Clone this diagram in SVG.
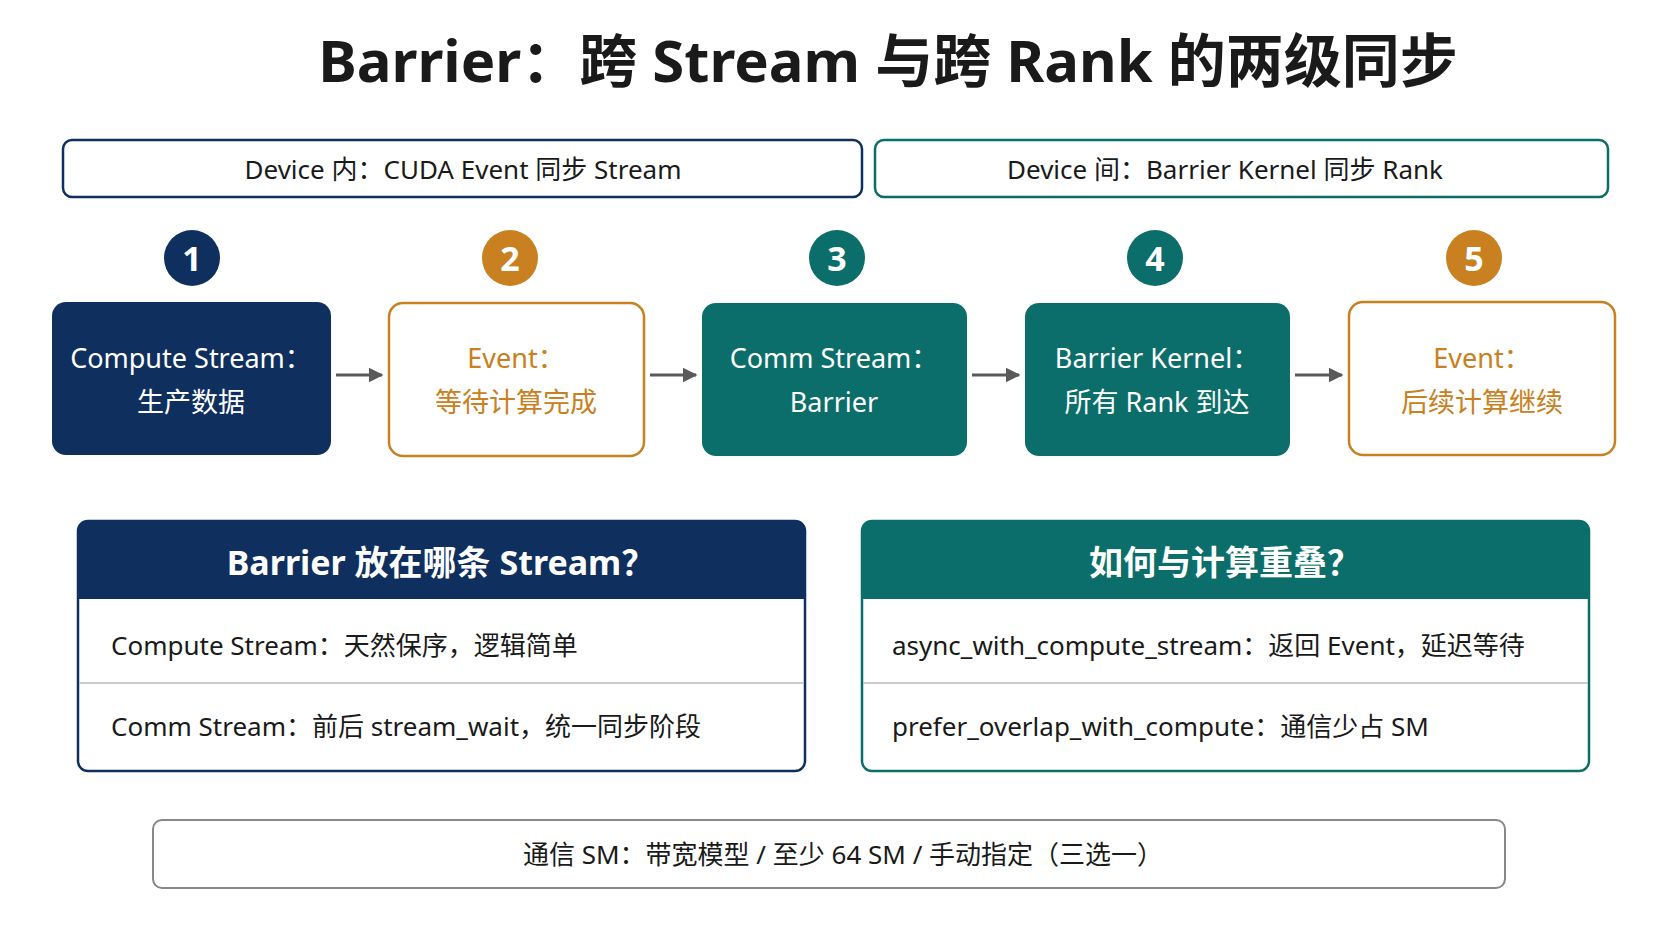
<svg xmlns="http://www.w3.org/2000/svg" width="1672" height="941" viewBox="0 0 1672 941">
<defs>
<style>
text{font-family:"Noto Sans","Noto Sans CJK SC",sans-serif;text-anchor:middle;dominant-baseline:central}
.t{font-size:58px;font-weight:700;fill:#1a1a1a}
.h{font-size:26px;fill:#1a1a1a}
.n{font-size:34px;font-weight:700;fill:#fff}
.w{font-size:27px;fill:#fff}
.o{font-size:27px;fill:#c98020}
.ph{font-size:34px;font-weight:700;fill:#fff}
.r{font-size:26px;fill:#1a1a1a;text-anchor:start}
.ln{stroke:#5a5a5a;stroke-width:3;fill:none}
</style>
<marker id="a" viewBox="0 0 10 10" refX="9" refY="5" markerWidth="5" markerHeight="5" orient="auto"><path d="M0,0L10,5L0,10z" fill="#5a5a5a"/></marker>
</defs>
<rect width="1672" height="941" fill="#fff"/>
<text class="t" x="888" y="59">Barrier：跨 Stream 与跨 Rank 的两级同步</text>
<g id="hdr1"><rect x="63" y="140" width="799" height="57" rx="9" fill="#fff" stroke="#0f2f5f" stroke-width="2.5"/><text class="h" x="463" y="169">Device 内：CUDA Event 同步 Stream</text></g>
<g id="hdr2"><rect x="875" y="140" width="733" height="57" rx="9" fill="#fff" stroke="#0b6e6a" stroke-width="2.5"/><text class="h" x="1225" y="169">Device 间：Barrier Kernel 同步 Rank</text></g>
<g id="c1"><circle cx="192" cy="258" r="28" fill="#0f2f5f"/><text class="n" x="192" y="258">1</text></g>
<g id="c2"><circle cx="510" cy="258" r="28" fill="#c98020"/><text class="n" x="510" y="258">2</text></g>
<g id="c3"><circle cx="837" cy="258" r="28" fill="#0b6e6a"/><text class="n" x="837" y="258">3</text></g>
<g id="c4"><circle cx="1155" cy="258" r="28" fill="#0b6e6a"/><text class="n" x="1155" y="258">4</text></g>
<g id="c5"><circle cx="1474" cy="258" r="28" fill="#c98020"/><text class="n" x="1474" y="258">5</text></g>
<g id="b1"><rect x="52" y="302" width="279" height="153" rx="14" fill="#0f2f5f"/><text class="w" x="191" y="357">Compute Stream：</text><text class="w" x="191" y="401">生产数据</text></g>
<g id="b2"><rect x="389" y="303" width="255" height="153" rx="14" fill="#fff" stroke="#c98020" stroke-width="2.5"/><text class="o" x="516" y="357">Event：</text><text class="o" x="516" y="401">等待计算完成</text></g>
<g id="b3"><rect x="702" y="303" width="265" height="153" rx="14" fill="#0b6e6a"/><text class="w" x="834" y="357">Comm Stream：</text><text class="w" x="834" y="401">Barrier</text></g>
<g id="b4"><rect x="1025" y="303" width="265" height="153" rx="14" fill="#0b6e6a"/><text class="w" x="1157" y="357">Barrier Kernel：</text><text class="w" x="1157" y="401">所有 Rank 到达</text></g>
<g id="b5"><rect x="1349" y="302" width="266" height="153" rx="14" fill="#fff" stroke="#c98020" stroke-width="2.5"/><text class="o" x="1482" y="357">Event：</text><text class="o" x="1482" y="401">后续计算继续</text></g>
<g id="connectors">
<line class="ln" x1="336" y1="375" x2="382" y2="375" marker-end="url(#a)"/>
<line class="ln" x1="650" y1="375" x2="696" y2="375" marker-end="url(#a)"/>
<line class="ln" x1="972" y1="375" x2="1019" y2="375" marker-end="url(#a)"/>
<line class="ln" x1="1295" y1="375" x2="1342" y2="375" marker-end="url(#a)"/>
</g>
<g id="p1"><rect x="78" y="521" width="727" height="250" rx="10" fill="#fff" stroke="#0f2f5f" stroke-width="2.5"/><path d="M78,599V531a10,10 0 0 1 10,-10H795a10,10 0 0 1 10,10V599z" fill="#0f2f5f"/><text class="ph" x="441" y="562">Barrier 放在哪条 Stream？</text><line x1="79" y1="683" x2="804" y2="683" stroke="#bbb" stroke-width="1.5"/><text class="r" x="111" y="645">Compute Stream：天然保序，逻辑简单</text><text class="r" x="111" y="726">Comm Stream：前后 stream_wait，统一同步阶段</text></g>
<g id="p2"><rect x="862" y="521" width="727" height="250" rx="10" fill="#fff" stroke="#0b6e6a" stroke-width="2.5"/><path d="M862,599V531a10,10 0 0 1 10,-10H1579a10,10 0 0 1 10,10V599z" fill="#0b6e6a"/><text class="ph" x="1225" y="562">如何与计算重叠？</text><line x1="863" y1="683" x2="1588" y2="683" stroke="#bbb" stroke-width="1.5"/><text class="r" x="892" y="645">async_with_compute_stream：返回 Event，延迟等待</text><text class="r" x="892" y="726">prefer_overlap_with_compute：通信少占 SM</text></g>
<g id="foot"><rect x="153" y="820" width="1352" height="68" rx="9" fill="#fff" stroke="#888" stroke-width="2"/><text class="h" x="843" y="854">通信 SM：带宽模型 / 至少 64 SM / 手动指定（三选一）</text></g>
</svg>
